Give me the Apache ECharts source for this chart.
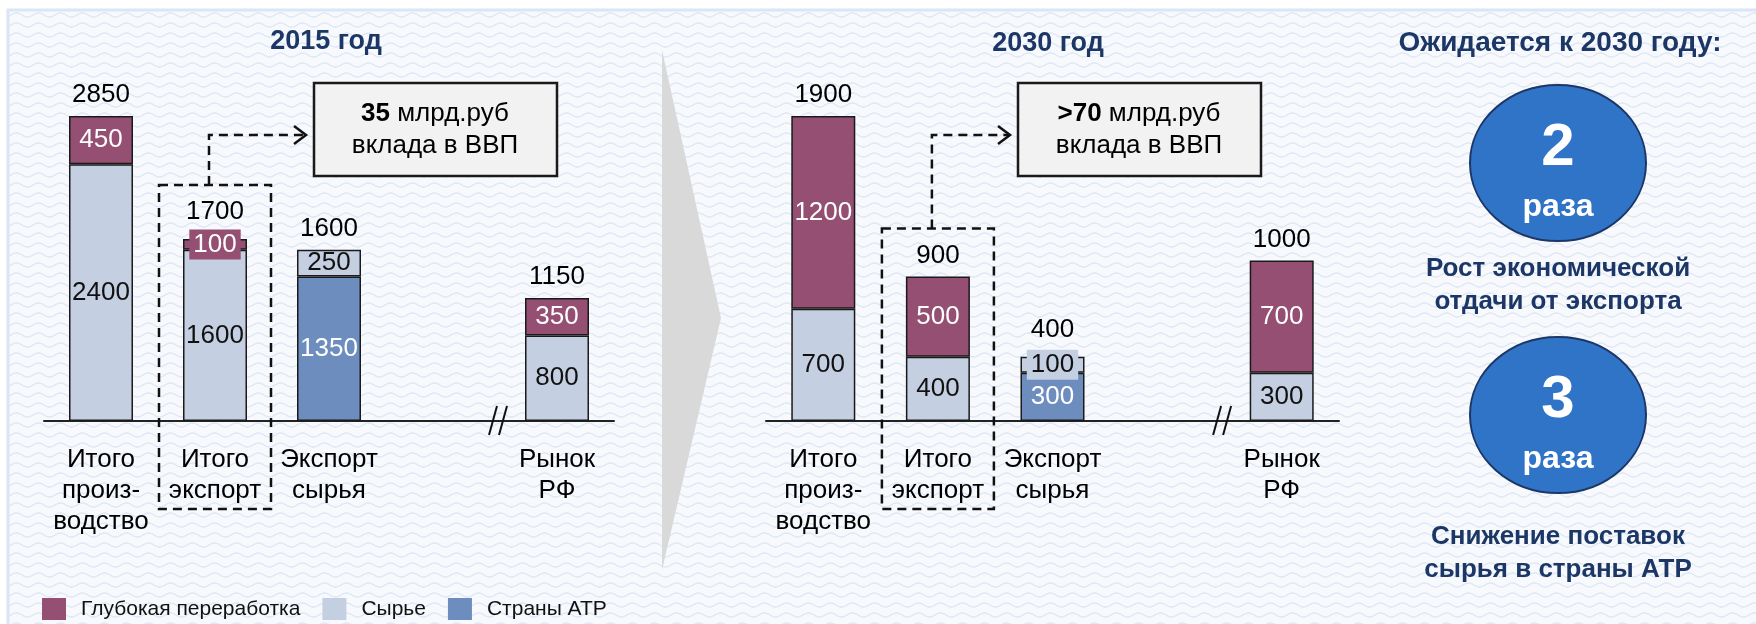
<!DOCTYPE html>
<html lang="ru">
<head>
<meta charset="UTF-8">
<title>2015 год / 2030 год</title>
<script src="https://cdn.jsdelivr.net/npm/echarts@6/dist/echarts.min.js"></script>
<style>
    html, body { margin: 0; padding: 0; background: #fff; }
    #main { width: 1756px; height: 624px; }
</style>
</head>
<body>
<div id="main"></div>
<script>
    // категории (пустой слот = разрыв оси)
    const categories = ['Итого\nпроиз-\nводство', 'Итого\nэкспорт', 'Экспорт\nсырья', '', 'Рынок\nРФ'];
    const seriesNames = ['Глубокая переработка', 'Сырье', 'Страны АТР'];

    // 2015 год
    const deep2015 = [450, 100, null, null, 350];
    const raw2015 = [2400, 1600, 250, null, 800];
    const atr2015 = [null, null, 1350, null, null];
    const total2015 = [2850, 1700, 1600, null, 1150];

    // 2030 год
    const deep2030 = [1200, 500, null, null, 700];
    const raw2030 = [700, 400, 100, null, 300];
    const atr2030 = [null, null, 300, null, null];
    const total2030 = [1900, 900, 400, null, 1000];

    const gdpValues = ['35', '>70'];
    const growthTimes = ['2', '3'];

    const DEEP = '#954F72', RAW = '#C4CFE2', ATR = '#6D8DBE', NAVY = '#1C3766';
    const FONT = '"Liberation Sans", Arial, sans-serif';

    const chart = echarts.init(document.getElementById('main'));

    // волнистый фон
    const pat = document.createElement('canvas');
    pat.width = 22; pat.height = 10;
    const g = pat.getContext('2d');
    g.fillStyle = '#f7f9fd';
    g.fillRect(0, 0, 22, 10);
    g.strokeStyle = '#dce7f6';
    g.lineWidth = 1.3;
    g.beginPath();
    for (let x = 0; x <= 22; x++) {
        const y = 5 + 2 * Math.sin(x / 22 * 2 * Math.PI);
        x ? g.lineTo(x, y) : g.moveTo(x, y);
    }
    g.stroke();

    function segData(arr, color) {
        return arr.map(v => {
            if (v == null) return null;
            // маленький сегмент - подпись на плашке
            if (v < 150) return { value: v, label: { backgroundColor: color, padding: [2, 4] } };
            return v;
        });
    }

    function makeSeries(idx, deep, raw, atr, total) {
        const base = {
            type: 'bar', xAxisIndex: idx, yAxisIndex: idx, stack: 's' + idx,
            barWidth: 64, barGap: '-100%',
            label: { show: true, position: 'inside', fontSize: 26, fontFamily: FONT },
        };
        return [
            Object.assign({}, base, {
                name: 'Страны АТР', data: segData(atr, ATR),
                itemStyle: { color: ATR, borderColor: '#1a1a1a', borderWidth: 1.5 },
                label: Object.assign({}, base.label, { color: '#fff' })
            }),
            Object.assign({}, base, {
                name: 'Сырье', data: segData(raw, RAW),
                itemStyle: { color: RAW, borderColor: '#1a1a1a', borderWidth: 1.5 },
                label: Object.assign({}, base.label, { color: '#111' })
            }),
            Object.assign({}, base, {
                name: 'Глубокая переработка', data: segData(deep, DEEP),
                itemStyle: { color: DEEP, borderColor: '#1a1a1a', borderWidth: 1.5 },
                label: Object.assign({}, base.label, { color: '#fff' })
            }),
            {
                type: 'bar', name: 'Итого', xAxisIndex: idx, yAxisIndex: idx,
                barWidth: 64, barGap: '-100%', silent: true,
                itemStyle: { color: 'rgba(0,0,0,0)' },
                data: total.map((v, i) => (v != null && deep[i] != null && deep[i] < 150) || (v != null && raw[i] != null && raw[i] < 150)
                    ? { value: v, label: { distance: 14 } } : v),
                label: { show: true, position: 'top', distance: 8, fontSize: 26, color: '#000', fontFamily: FONT }
            }
        ];
    }

    const xAxisBase = {
        type: 'category', data: categories,
        axisLine: { lineStyle: { color: '#222', width: 2 } },
        axisTick: { show: false },
        axisLabel: { interval: 0, fontSize: 26, lineHeight: 31, margin: 23, color: '#000', fontFamily: FONT }
    };

    const option = {
        backgroundColor: '#fff',
        animation: false,
        textStyle: { fontFamily: FONT },
        grid: [
            { left: 44, width: 570, top: 100, height: 321 },
            { left: 766, width: 573, top: 100, height: 321 }
        ],
        xAxis: [
            Object.assign({ gridIndex: 0 }, xAxisBase),
            Object.assign({ gridIndex: 1 }, xAxisBase)
        ],
        yAxis: [
            { type: 'value', gridIndex: 0, min: 0, max: 3000, show: false },
            { type: 'value', gridIndex: 1, min: 0, max: 2000, show: false }
        ],
        legend: {
            data: seriesNames, left: 37, top: 593, icon: 'rect',
            itemWidth: 24, itemHeight: 22, itemGap: 22,
            itemStyle: { borderWidth: 0 },
            textStyle: { fontSize: 21, color: '#111', fontFamily: FONT, padding: [0, 0, 0, 10] }
        },
        series: makeSeries(0, deep2015, raw2015, atr2015, total2015)
            .concat(makeSeries(1, deep2030, raw2030, atr2030, total2030))
    };
    chart.setOption(option);

    // аннотации: рамки, стрелки, разрывы оси
    const boxGap = [54, 48];
    const gdpBoxX = [314, 1018];
    const totals = [total2015, total2030];
    const annotations = [];
    [0, 1].forEach(idx => {
        const p1 = chart.convertToPixel({ gridIndex: idx }, [1, totals[idx][1]]);
        const p3 = chart.convertToPixel({ gridIndex: idx }, [3, 0]);
        const boxTop = p1[1] - boxGap[idx];
        const dash = { stroke: '#111', lineWidth: 2.5, lineDash: [9, 6], fill: null };
        annotations.push({
            type: 'rect', z: 5,
            shape: { x: p1[0] - 56, y: boxTop, width: 112, height: 509 - boxTop },
            style: dash
        });
        const cx = p1[0] - 6, cy = 135, ex = gdpBoxX[idx] - 8;
        annotations.push({
            type: 'polyline', z: 5,
            shape: { points: [[cx, boxTop], [cx, cy], [ex, cy]] },
            style: dash
        });
        annotations.push({
            type: 'polyline', z: 5,
            shape: { points: [[ex - 12, cy - 9], [ex, cy], [ex - 12, cy + 9]] },
            style: { stroke: '#111', lineWidth: 2.5, fill: null }
        });
        // текстовая плашка ВВП
        annotations.push({
            type: 'rect', z: 5,
            shape: { x: gdpBoxX[idx], y: 83, width: 243, height: 93 },
            style: { fill: '#f2f2f2', stroke: '#1a1a1a', lineWidth: 2.5 }
        });
        annotations.push({
            type: 'text', z: 6,
            x: gdpBoxX[idx] + 121, y: 130,
            style: {
                text: '{b|' + gdpValues[idx] + '} млрд.руб\nвклада в ВВП',
                rich: { b: { fontWeight: 'bold', fontSize: 26, fontFamily: FONT, fill: '#000' } },
                fontSize: 26, fontFamily: FONT, fill: '#000', lineHeight: 32,
                align: 'center', verticalAlign: 'middle'
            }
        });
        // разрыв оси
        const bx = p3[0] + 55;
        [-5, 5].forEach(d => annotations.push({
            type: 'line', z: 6,
            shape: { x1: bx + d - 4, y1: 435, x2: bx + d + 4, y2: 406 },
            style: { stroke: '#111', lineWidth: 2 }
        }));
    });

    const titleStyle = { fill: NAVY, fontWeight: 'bold', fontFamily: FONT, align: 'center', verticalAlign: 'middle' };
    const rightPanel = [];
    [163, 415].forEach((cy, i) => {
        rightPanel.push({
            type: 'ellipse', z: 5,
            shape: { cx: 1558, cy: cy, rx: 88, ry: 78 },
            style: { fill: '#3074C8', stroke: '#1C3766', lineWidth: 2 }
        });
        rightPanel.push({
            type: 'text', z: 6, x: 1558, y: cy - 15,
            style: Object.assign({}, titleStyle, { text: growthTimes[i], fontSize: 60, fill: '#fff' })
        });
        rightPanel.push({
            type: 'text', z: 6, x: 1558, y: cy + 44,
            style: Object.assign({}, titleStyle, { text: 'раза', fontSize: 32, fill: '#fff' })
        });
    });

    chart.setOption({
        graphic: [
            {
                type: 'rect', z: -10, silent: true,
                shape: { x: 8, y: 10, width: 1760, height: 620 },
                style: { fill: { image: pat, repeat: 'repeat' }, stroke: '#dae5f5', lineWidth: 3 }
            },
            {
                type: 'polygon', z: -5,
                shape: { points: [[662, 50], [721, 318], [662, 570]] },
                style: { fill: '#d9d9d9' }
            },
            { type: 'text', x: 326, y: 42, style: Object.assign({}, titleStyle, { text: '2015 год', fontSize: 27 }) },
            { type: 'text', x: 1048, y: 44, style: Object.assign({}, titleStyle, { text: '2030 год', fontSize: 27 }) },
            { type: 'text', x: 1560, y: 43, style: Object.assign({}, titleStyle, { text: 'Ожидается к 2030 году:', fontSize: 28 }) },
            { type: 'text', x: 1558, y: 285, style: Object.assign({}, titleStyle, { text: 'Рост экономической\nотдачи от экспорта', fontSize: 26, lineHeight: 33 }) },
            { type: 'text', x: 1558, y: 553, style: Object.assign({}, titleStyle, { text: 'Снижение поставок\nсырья в страны АТР', fontSize: 26, lineHeight: 33 }) }
        ].concat(annotations, rightPanel)
    });
</script>
</body>
</html>
